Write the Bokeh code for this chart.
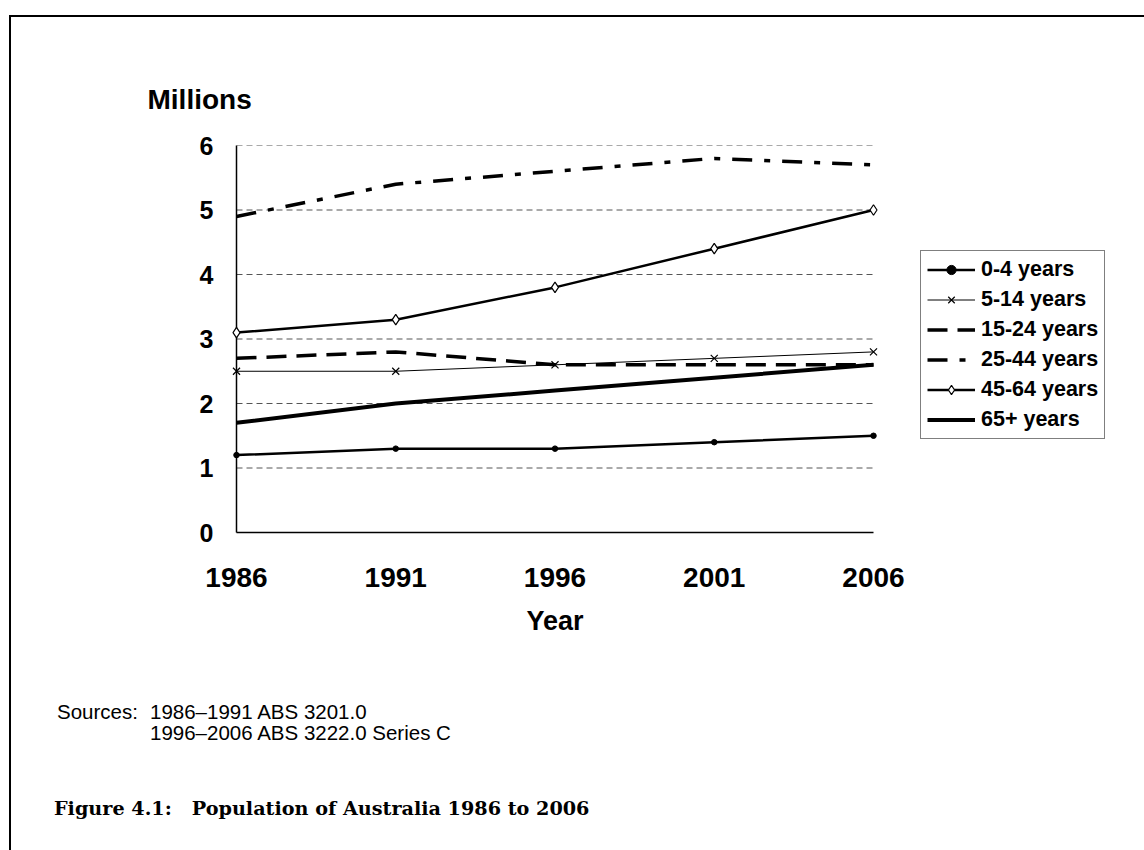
from bokeh.plotting import figure
from bokeh.models import Legend, LegendItem, FixedTicker, Title, Div
from bokeh.layouts import column
from bokeh.embed import file_html
from bokeh.resources import INLINE

# ---- data (millions) ----
years = [1986, 1991, 1996, 2001, 2006]
age_0_4 = [1.2, 1.3, 1.3, 1.4, 1.5]
age_5_14 = [2.5, 2.5, 2.6, 2.7, 2.8]
age_15_24 = [2.7, 2.8, 2.6, 2.6, 2.6]
age_25_44 = [4.9, 5.4, 5.6, 5.8, 5.7]
age_45_64 = [3.1, 3.3, 3.8, 4.4, 5.0]
age_65_plus = [1.7, 2.0, 2.2, 2.4, 2.6]
y_ticks = [0, 1, 2, 3, 4, 5, 6]
labels = ["0-4 years", "5-14 years", "15-24 years", "25-44 years", "45-64 years", "65+ years"]

SANS = "Liberation Sans"

W, H = 1133, 640
BL, BR = 225, 23                 # borders left / right
AXIS_W = 637                     # pixel length of the 1986-2006 axis
frame_w = W - BL - BR
x0, x1 = years[0], years[-1]
x_end = x1 + (x1 - x0) * (frame_w - AXIS_W) / AXIS_W   # extra room on the right for the legend

p = figure(width=W, height=H, output_backend="svg", toolbar_location=None,
           x_range=(x0, x_end), y_range=(0, 6),
           min_border_left=BL, min_border_right=BR,
           min_border_top=128, min_border_bottom=H - 515)
p.outline_line_color = None
p.background_fill_color = "white"
p.border_fill_color = "white"

# axes
p.xaxis.ticker = FixedTicker(ticks=years)
p.xaxis.bounds = (x0, x1)
p.yaxis.ticker = FixedTicker(ticks=y_ticks)
for ax in (p.xaxis[0], p.yaxis[0]):
    ax.major_tick_out = 0
    ax.major_tick_in = 0
    ax.minor_tick_out = 0
    ax.minor_tick_in = 0
    ax.axis_line_color = "black"
    ax.axis_line_width = 1.5
    ax.major_label_text_font = SANS
    ax.major_label_text_font_style = "bold"
    ax.major_label_text_color = "black"
p.xaxis.major_label_text_font_size = "28px"
p.xaxis.major_label_standoff = 35
p.yaxis.major_label_text_font_size = "25px"
p.yaxis.major_label_standoff = 23

p.xgrid.visible = False
p.ygrid.visible = False

# dashed horizontal gridlines spanning only the 1986-2006 axis
p.segment(x0=[x0] * len(y_ticks), x1=[x1] * len(y_ticks), y0=y_ticks, y1=y_ticks,
          line_color="#555555", line_dash="6 4", line_width=1)

# series
r0l = p.line(years, age_0_4, line_color="black", line_width=2.5)
r0m = p.scatter(years, age_0_4, marker="circle", size=5.5, fill_color="black",
                line_color="black", level="overlay")
r1l = p.line(years, age_5_14, line_color="black", line_width=1)
r1m = p.scatter(years, age_5_14, marker="x", size=10, line_color="black",
                line_width=1.2, level="overlay")
r2l = p.line(years, age_15_24, line_color="black", line_width=3.5, line_dash="20 10")
r3l = p.line(years, age_25_44, line_color="black", line_width=3.5, line_dash="20 12 6 12")
r4l = p.line(years, age_45_64, line_color="black", line_width=2.5)
r4m = p.scatter(years, age_45_64, marker="diamond", size=10.5, fill_color="white",
                line_color="black", line_width=1.2, level="overlay")
r5l = p.line(years, age_65_plus, line_color="black", line_width=4)

legend = Legend(items=[
    LegendItem(label=labels[0], renderers=[r0l, r0m]),
    LegendItem(label=labels[1], renderers=[r1l, r1m]),
    LegendItem(label=labels[2], renderers=[r2l]),
    LegendItem(label=labels[3], renderers=[r3l]),
    LegendItem(label=labels[4], renderers=[r4l, r4m]),
    LegendItem(label=labels[5], renderers=[r5l]),
], location=(684, 93), orientation="vertical",
    label_text_font=SANS, label_text_font_style="bold", label_text_font_size="21.5px",
    label_text_color="black",
    glyph_width=48, glyph_height=23, label_height=23, label_standoff=6,
    spacing=5, padding=6, margin=0,
    border_line_color="black", border_line_width=1.5,
    background_fill_color="white", background_fill_alpha=1)
p.add_layout(legend)

p.add_layout(Title(text="Millions", align="left", offset=-89, standoff=62,
                   text_font=SANS, text_font_style="bold", text_font_size="28px",
                   text_color="black"), "above")
p.add_layout(Title(text="Year", align="left", offset=290, standoff=28,
                   text_font=SANS, text_font_style="bold", text_font_size="27px",
                   text_color="black"), "below")

sources_html = (
    "<div style=\"font-family:'Liberation Sans',Arial,sans-serif;font-size:20.5px;"
    "line-height:21px;color:black;padding-left:41px;padding-top:39px;white-space:nowrap\">"
    "<span style=\"display:inline-block;width:93px\">Sources:</span>1986–1991 ABS 3201.0<br>"
    "<span style=\"display:inline-block;width:93px\"></span>1996–2006 ABS 3222.0 Series C"
    "</div>"
)
caption_html = (
    "<div style=\"font-family:'DejaVu Serif',serif;font-weight:bold;font-size:19.2px;"
    "line-height:24px;color:black;padding-left:38px;padding-top:40px;white-space:pre\">"
    "Figure 4.1:   Population of Australia 1986 to 2006</div>"
)
d1 = Div(text=sources_html, width=W, height=85)
d2 = Div(text=caption_html, width=W, height=108)

layout = column(p, d1, d2, spacing=0)
layout.styles = {"border-top": "2px solid black", "border-left": "2px solid black",
                 "margin-left": "9px", "margin-top": "15px"}

open("out.html", "w").write(file_html(layout, INLINE))
